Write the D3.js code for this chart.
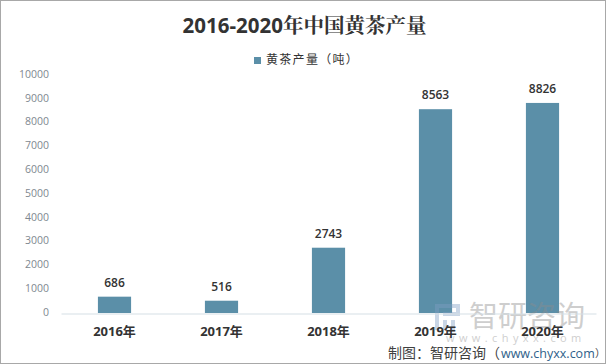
<!DOCTYPE html>
<html>
<head>
<meta charset="utf-8">
<script src="https://cdn.jsdelivr.net/npm/d3@7"></script>
<style>
  html, body { margin: 0; padding: 0; background: #fff; }
  svg { display: block; }
</style>
</head>
<body>
<div id="chart-container"></div>
<script>
const years = ["2016年", "2017年", "2018年", "2019年", "2020年"];
const output = [686, 516, 2743, 8563, 8826];
const yTicks = [0, 1000, 2000, 3000, 4000, 5000, 6000, 7000, 8000, 9000, 10000];

const titleText = "2016-2020年中国黄茶产量";
const legendText = "黄茶产量（吨）";

const W = 606, H = 364;
const barColor = "#5b8fa8";
const cjk = "'Noto Sans CJK SC', 'Noto Sans', sans-serif";
const latin = "'Open Sans', 'Noto Sans CJK SC', sans-serif";

const svg = d3.select("#chart-container")
    .append("svg")
        .attr("width", W)
        .attr("height", H);

// outer frame
svg.append("rect")
    .attr("x", 0.5).attr("y", 0.5)
    .attr("width", W - 1).attr("height", H - 1)
    .attr("fill", "#fff")
    .attr("stroke", "#a8a8a8");

const x = d3.scaleBand()
    .domain(years)
    .range([61, 596])
    .paddingInner(0.69)
    .paddingOuter(0.345);
const y = d3.scaleLinear()
    .domain([0, 10000])
    .range([313, 75]);

// title
svg.append("text")
    .attr("x", 304.5).attr("y", 33)
    .attr("text-anchor", "middle")
    .attr("font-family", "'Open Sans', 'Noto Serif CJK SC', 'Noto Sans CJK SC', sans-serif")
    .attr("font-size", 20.5)
    .attr("font-weight", 700)
    .attr("fill", "#333")
    .text(titleText);

// legend
svg.append("rect")
    .attr("x", 254).attr("y", 57)
    .attr("width", 7).attr("height", 7)
    .attr("fill", barColor);
svg.append("text")
    .attr("x", 266).attr("y", 64)
    .attr("font-family", cjk)
    .attr("font-size", 12)
    .attr("letter-spacing", 1.3)
    .attr("fill", "#333")
    .text(legendText);

// y axis, labels only
const yAxis = svg.append("g")
    .attr("transform", "translate(60,-1)")
    .call(d3.axisLeft(y).tickValues(yTicks).tickFormat(d3.format("d")).tickSize(0).tickPadding(11));
yAxis.select(".domain").remove();
yAxis.selectAll("text")
    .attr("font-family", latin)
    .attr("font-size", 10.5)
    .attr("fill", "#808890");

// bars
svg.append("g")
    .selectAll("rect")
    .data(output)
    .join("rect")
        .attr("x", (d, i) => x(years[i]))
        .attr("y", d => y(d))
        .attr("width", x.bandwidth())
        .attr("height", d => y(0) - y(d))
        .attr("fill", barColor);

// x axis line
const xAxis = svg.append("g")
    .attr("transform", "translate(0,313.5)")
    .call(d3.axisBottom(x).tickSize(0).tickPadding(13));
xAxis.select(".domain").attr("stroke", "#d5dfe5");

// watermark, under the labels
const mark = svg.append("g").attr("opacity", 0.42);
mark.append("text")
    .attr("x", 469).attr("y", 327)
    .attr("font-family", cjk)
    .attr("font-size", 29)
    .attr("fill", "#8c8c8c")
    .text("智研咨询");
mark.append("text")
    .attr("x", 446).attr("y", 342)
    .attr("font-family", latin)
    .attr("font-size", 11)
    .attr("letter-spacing", 4.4)
    .attr("fill", "#8c8c8c")
    .text("www.chyxx.com");
const logo = mark.append("g").attr("fill", "#7f9fc4");
logo.append("rect").attr("x", 435).attr("y", 304).attr("width", 25).attr("height", 4);
logo.append("rect").attr("x", 435).attr("y", 304).attr("width", 4).attr("height", 26);
logo.append("rect").attr("x", 443).attr("y", 312).attr("width", 14).attr("height", 4);
logo.append("rect").attr("x", 456).attr("y", 304).attr("width", 4).attr("height", 12);
logo.append("rect").attr("x", 443).attr("y", 320).attr("width", 4).attr("height", 10);
logo.append("rect").attr("x", 451).attr("y", 320).attr("width", 4).attr("height", 10);

// x labels
xAxis.raise();
xAxis.selectAll("text")
    .attr("font-family", latin)
    .attr("font-size", 13)
    .attr("font-weight", 700)
    .attr("fill", "#333");

// value labels
svg.append("g")
    .selectAll("text")
    .data(output)
    .join("text")
        .attr("x", (d, i) => x(years[i]) + x.bandwidth() / 2)
        .attr("y", d => y(d) - 14)
        .attr("dy", "0.35em")
        .attr("text-anchor", "middle")
        .attr("font-family", latin)
        .attr("font-size", 12)
        .attr("font-weight", 600)
        .attr("fill", "#333")
        .text(d => d);

// credit
svg.append("text")
    .attr("x", 388).attr("y", 358)
    .attr("font-family", cjk)
    .attr("font-size", 14)
    .attr("fill", "#404040")
    .text("制图：智研咨询（");
svg.append("text")
    .attr("x", 595).attr("y", 357)
    .attr("font-family", cjk)
    .attr("font-size", 10.5)
    .attr("fill", "#404040")
    .text("）");
svg.append("text")
    .attr("x", 501).attr("y", 358)
    .attr("font-family", latin)
    .attr("font-size", 12.5)
    .attr("fill", "#2f5f8a")
    .text("www.chyxx.com");
</script>
</body>
</html>
